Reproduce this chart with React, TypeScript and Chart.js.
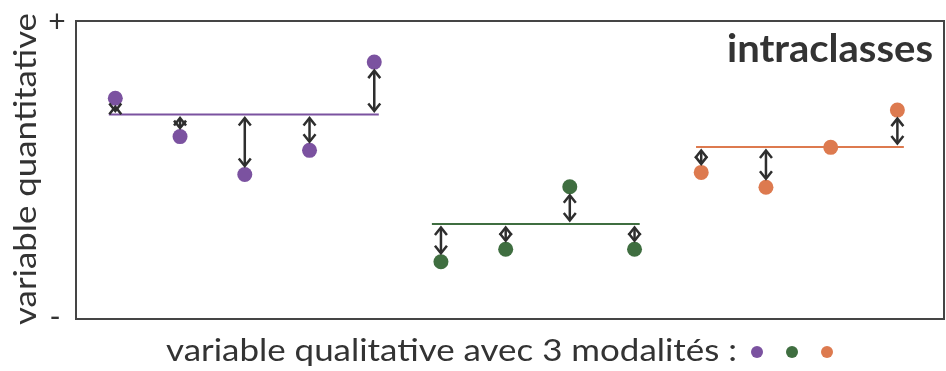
import React, { useEffect, useRef } from "react";
import { Chart, registerables } from "chart.js";

Chart.register(...registerables);

// ---- data (arbitrary units) ----
const purpleX = [1, 2, 3, 4, 5];
const purpleY = [74.1, 61.2, 48.5, 56.6, 86.2];
const purpleMean = 68.6;
const purpleSpan = [0.9, 5.07];

const greenX = [6.03, 7.03, 8.02, 9.02];
const greenY = [19.2, 23.4, 44.4, 23.4];
const greenMean = 31.9;
const greenSpan = [5.89, 9.1];

const orangeX = [10.05, 11.05, 12.05, 13.08];
const orangeY = [49.2, 44.2, 57.6, 70.1];
const orangeMean = 57.7;
const orangeSpan = [9.97, 13.18];

const yTickLabels = ["-", "+"];
const yAxisTitle = "variable quantitative";
const xAxisTitle = "variable qualitative avec 3 modalités :";
const panelTitle = "intraclasses";

const COLORS = ["#7b52a0", "#3f6e40", "#dd7a4f"];
const TEXT = "#333333";
const FONT = "Lato, 'Open Sans', sans-serif";

const groups = [
  { xs: purpleX, ys: purpleY, mean: purpleMean, span: purpleSpan, color: COLORS[0] },
  { xs: greenX, ys: greenY, mean: greenMean, span: greenSpan, color: COLORS[1] },
  { xs: orangeX, ys: orangeY, mean: orangeMean, span: orangeSpan, color: COLORS[2] },
];

// draw text at a given font size, scaled horizontally to a target width
function drawFitted(
  ctx: CanvasRenderingContext2D,
  text: string,
  weight: string,
  size: number,
  target: number,
  x: number,
  y: number,
  align: "left" | "right" | "center"
) {
  ctx.save();
  ctx.font = `${weight} ${size}px ${FONT}`;
  const w = ctx.measureText(text).width;
  const sx = target / w;
  ctx.translate(x, y);
  ctx.scale(sx, 1);
  ctx.textAlign = align;
  ctx.textBaseline = "alphabetic";
  ctx.fillText(text, 0, 0);
  ctx.restore();
}

const decorPlugin = {
  id: "decor",
  afterDatasetsDraw(chart: any) {
    const { ctx, scales } = chart;
    const xs = scales.x;
    const ys = scales.y;
    ctx.save();
    ctx.strokeStyle = "#2e2e2e";
    ctx.lineWidth = 2.5;
    ctx.lineCap = "butt";
    ctx.lineJoin = "miter";
    const head = 7.5;
    const half = 6;
    groups.forEach((g) => {
      const ly = ys.getPixelForValue(g.mean);
      g.xs.forEach((xv, i) => {
        const px = xs.getPixelForValue(xv);
        const py = ys.getPixelForValue(g.ys[i]);
        if (Math.abs(py - ly) < 1) return;
        const dir = py > ly ? 1 : -1;
        const a = ly + dir * 3.5;
        const b = py - dir * 8.5;
        ctx.beginPath();
        ctx.moveTo(px, a + dir * 1);
        ctx.lineTo(px, b - dir * 1);
        ctx.stroke();
        ctx.beginPath();
        ctx.moveTo(px - half, a + dir * head);
        ctx.lineTo(px, a);
        ctx.lineTo(px + half, a + dir * head);
        ctx.stroke();
        ctx.beginPath();
        ctx.moveTo(px - half, b - dir * head);
        ctx.lineTo(px, b);
        ctx.lineTo(px + half, b - dir * head);
        ctx.stroke();
      });
    });
    ctx.restore();
  },
  afterDraw(chart: any) {
    const { ctx, chartArea, scales } = chart;
    ctx.save();
    ctx.strokeStyle = "#454545";
    ctx.lineWidth = 2;
    ctx.strokeRect(chartArea.left, chartArea.top, chartArea.right - chartArea.left, chartArea.bottom - chartArea.top);

    ctx.fillStyle = TEXT;
    ctx.font = `400 30px ${FONT}`;
    ctx.textAlign = "center";
    ctx.textBaseline = "middle";
    ctx.fillText(yTickLabels[1], 57, scales.y.getPixelForValue(scales.y.max) + 1);
    ctx.fillText(yTickLabels[0], 55, scales.y.getPixelForValue(scales.y.min) - 2);

    // y title (rotated)
    ctx.save();
    ctx.translate(36, 169);
    ctx.rotate(-Math.PI / 2);
    drawFitted(ctx, yAxisTitle, "400", 30, 312, 0, 0, "center");
    ctx.restore();

    // x title
    drawFitted(ctx, xAxisTitle, "400", 30, 571, 166, 361, "left");
    const dotX = [757, 792, 827];
    COLORS.forEach((c, i) => {
      ctx.beginPath();
      ctx.fillStyle = c;
      ctx.arc(dotX[i], 352, 6, 0, Math.PI * 2);
      ctx.fill();
    });

    ctx.fillStyle = TEXT;
    drawFitted(ctx, panelTitle, "700", 39, 206, 933, 62, "right");
    ctx.restore();
  },
};

export default function App() {
  const ref = useRef<HTMLCanvasElement>(null);
  useEffect(() => {
    if (!ref.current) return;
    const datasets: any[] = [];
    groups.forEach((g) => {
      datasets.push({
        type: "scatter",
        data: g.xs.map((x, i) => ({ x, y: g.ys[i] })),
        backgroundColor: g.color,
        borderWidth: 0,
        pointRadius: 7.5,
        order: 0,
      });
    });
    groups.forEach((g) => {
      datasets.push({
        type: "line",
        data: g.span.map((x) => ({ x, y: g.mean })),
        borderColor: g.color,
        borderWidth: 2,
        pointRadius: 0,
        fill: false,
        order: 1,
      });
    });
    const chart = new Chart(ref.current, {
      type: "scatter",
      data: { datasets },
      options: {
        animation: false,
        responsive: false,
        devicePixelRatio: 1,
        layout: { autoPadding: false, padding: { left: 76, top: 21, right: 2, bottom: 52 } },
        plugins: { legend: { display: false }, tooltip: { enabled: false } },
        scales: {
          x: { type: "linear", min: 0.393, max: 13.8, display: false },
          y: { type: "linear", min: 0, max: 100, display: false },
        },
      },
      plugins: [decorPlugin],
    });
    return () => chart.destroy();
  }, []);
  return (
    <div style={{ position: "fixed", left: 0, top: 0, width: 946, height: 371, background: "#fff" }}>
      <canvas ref={ref} width={946} height={371} />
    </div>
  );
}
